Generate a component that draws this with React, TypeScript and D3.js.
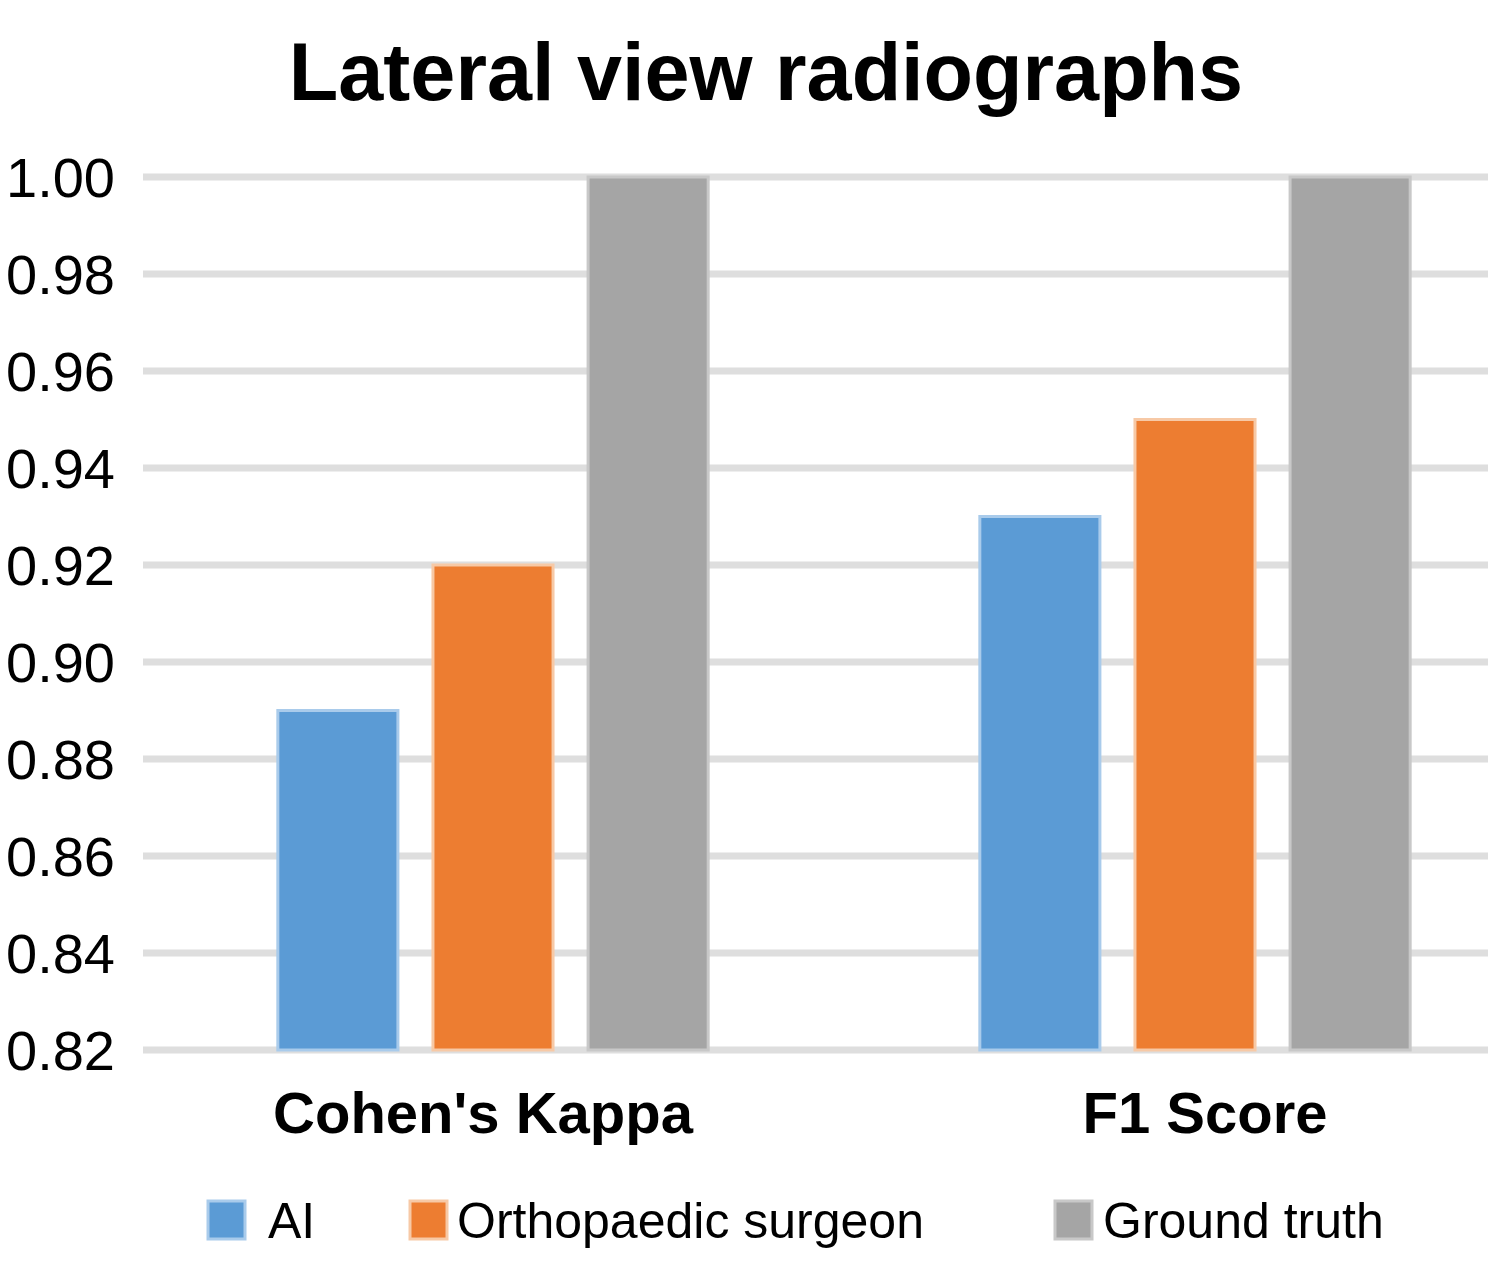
import * as d3 from "d3";
import React, { useRef, useEffect } from "react";

const categories = ["Cohen's Kappa", "F1 Score"];
const seriesNames = ["AI", "Orthopaedic surgeon", "Ground truth"];
const aiValues = [0.89, 0.93];
const surgeonValues = [0.92, 0.95];
const truthValues = [1.0, 1.0];
const yTicks = [0.82, 0.84, 0.86, 0.88, 0.9, 0.92, 0.94, 0.96, 0.98, 1.0];

const colors = ["#5B9BD5", "#ED7D31", "#A5A5A5"];
const edgeColors = ["#A9CBEB", "#F7C9A6", "#C8C8C8"];

function App() {
    const ref = useRef(null);
    const width = 1488;
    const height = 1266;

    useEffect(() => {
        const svg = d3.select(ref.current);
        svg.selectAll("*").remove();

        const values = [aiValues, surgeonValues, truthValues];

        const x0 = d3
            .scaleBand()
            .domain(categories)
            .range([142, 1546])
            .paddingInner(0.387)
            .paddingOuter(0.1935);

        const x1 = d3
            .scaleBand()
            .domain(seriesNames)
            .range([0, x0.bandwidth()])
            .paddingInner(0.226);

        const y = d3.scaleLinear().domain([0.82, 1.0]).range([1050, 177]);

        svg.append("rect")
            .attr("width", width)
            .attr("height", height)
            .attr("fill", "#fff");

        // title
        svg.append("text")
            .attr("x", 766)
            .attr("y", 100)
            .attr("text-anchor", "middle")
            .attr("font-family", "Liberation Sans, Arial, sans-serif")
            .attr("font-weight", "bold")
            .attr("font-size", 81)
            .attr("fill", "#000")
            .text("Lateral view radiographs");

        // gridlines
        svg.append("g")
            .selectAll("line")
            .data(yTicks)
            .enter()
            .append("line")
            .attr("x1", 143)
            .attr("x2", width)
            .attr("y1", (d) => y(d))
            .attr("y2", (d) => y(d))
            .attr("stroke", "#DEDEDE")
            .attr("stroke-width", 7);

        // y tick labels
        svg.append("g")
            .selectAll("text")
            .data(yTicks)
            .enter()
            .append("text")
            .attr("x", 115)
            .attr("y", (d) => y(d))
            .attr("dy", "0.36em")
            .attr("text-anchor", "end")
            .attr("font-family", "Liberation Sans, Arial, sans-serif")
            .attr("font-size", 56)
            .attr("fill", "#000")
            .text((d) => d3.format(".2f")(d));

        // bars
        const groups = svg
            .append("g")
            .selectAll("g")
            .data(categories)
            .enter()
            .append("g")
            .attr("transform", (d) => `translate(${x0(d)},0)`);

        groups
            .selectAll("rect")
            .data((d, i) => seriesNames.map((s, j) => ({ s, j, v: values[j][i] })))
            .enter()
            .append("rect")
            .attr("x", (d) => x1(d.s))
            .attr("y", (d) => y(d.v))
            .attr("width", x1.bandwidth())
            .attr("height", (d) => y(0.82) - y(d.v))
            .attr("fill", (d) => colors[d.j])
            .attr("stroke", (d) => edgeColors[d.j])
            .attr("stroke-width", 3);

        // category labels
        svg.append("g")
            .selectAll("text")
            .data(categories)
            .enter()
            .append("text")
            .attr("x", (d) => x0(d) + x0.bandwidth() / 2 + (d === "F1 Score" ? 10 : -10))
            .attr("y", 1133)
            .attr("text-anchor", "middle")
            .attr("font-family", "Liberation Sans, Arial, sans-serif")
            .attr("font-weight", "bold")
            .attr("font-size", 58)
            .attr("fill", "#000")
            .text((d) => d);

        // legend
        const legendX = [208, 410, 1055];
        const textX = [268, 457, 1103];
        const legend = svg
            .append("g")
            .selectAll("g")
            .data(seriesNames)
            .enter()
            .append("g");

        legend
            .append("rect")
            .attr("x", (d, i) => legendX[i])
            .attr("y", 1201)
            .attr("width", 37)
            .attr("height", 38)
            .attr("fill", (d, i) => colors[i])
            .attr("stroke", (d, i) => edgeColors[i])
            .attr("stroke-width", 3);

        legend
            .append("text")
            .attr("x", (d, i) => textX[i])
            .attr("y", 1238)
            .attr("font-family", "Liberation Sans, Arial, sans-serif")
            .attr("font-size", 50)
            .attr("fill", "#000")
            .text((d) => d);
    }, []);

    return (
        <div>
            <svg
                ref={ref}
                width={width}
                height={height}
                style={{ position: "absolute", left: 0, top: 0, display: "block" }}
            ></svg>
        </div>
    );
}

export default App;
